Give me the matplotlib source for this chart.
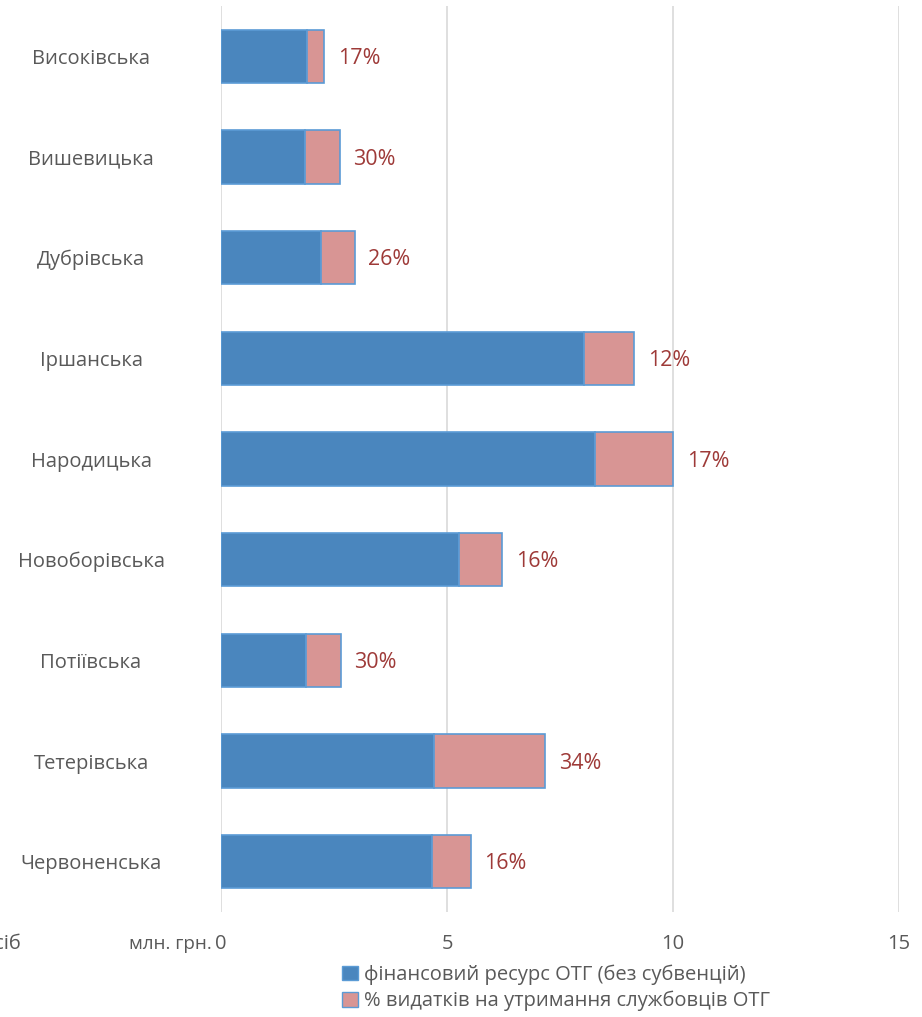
import matplotlib
matplotlib.use("Agg")
import matplotlib.pyplot as plt
from matplotlib.patches import Patch

plt.rcParams['font.family'] = ['Open Sans', 'DejaVu Sans']

categories = ["Високівська", "Вишевицька", "Дубрівська", "Іршанська", "Народицька",
              "Новоборівська", "Потіївська", "Тетерівська", "Червоненська"]
resource = [1.90, 1.86, 2.21, 8.03, 8.27, 5.27, 1.88, 4.71, 4.67]
staff = [0.38, 0.77, 0.75, 1.11, 1.73, 0.95, 0.77, 2.46, 0.86]
pct_labels = ["17%", "30%", "26%", "12%", "17%", "16%", "30%", "34%", "16%"]
xticks = [0, 5, 10, 15]

blue = "#4A86BE"
pink = "#D89594"
edge = "#5B9BD5"
grey = "#595959"
lab = "#9E3A38"
fs = 14.5

fig = plt.figure(figsize=(9.22, 10.17), dpi=100)
ax = fig.add_axes([221/922, 1-912/1017, (899-221)/922, (912-6)/1017])

y = list(range(len(categories)))
h = 0.53
ax.barh(y, resource, height=h, color=blue, edgecolor=edge, linewidth=1.2, zorder=3)
ax.barh(y, staff, left=resource, height=h, color=pink, edgecolor=edge, linewidth=1.2, zorder=3)
for i in y:
    tot = resource[i] + staff[i]
    ax.text(tot + 0.3, i + 0.02, pct_labels[i], va='center', ha='left', color=lab, fontsize=15.5)

ax.set_xlim(0, 15)
ax.set_ylim(len(categories) - 0.5, -0.5)
ax.set_xticks(xticks)
ax.set_xticklabels([str(v) for v in xticks], color=grey, fontsize=fs)
ax.set_yticks(y)
ax.set_yticklabels(categories, color=grey, fontsize=fs, ha='center')
ax.tick_params(axis='both', length=0)
ax.tick_params(axis='y', pad=130*0.72)
ax.tick_params(axis='x', pad=16)
ax.xaxis.grid(True, color="#D9D9D9", linewidth=1.2, zorder=0)
for s in ax.spines.values():
    s.set_visible(False)

fig.text(212/922, 1-944/1017, "млн. грн.", color=grey, fontsize=13.5, va='center', ha='right')
fig.text(22/922, 1-944/1017, "осіб", color=grey, fontsize=fs, va='center', ha='right')

handles = [Patch(facecolor=blue, edgecolor=edge, label="фінансовий ресурс ОТГ (без субвенцій)"),
           Patch(facecolor=pink, edgecolor=edge, label="% видатків на утримання службовців ОТГ")]
fig.legend(handles=handles, loc='center', bbox_to_anchor=(556/922, 1-988/1017), frameon=False,
           fontsize=fs, labelcolor=grey, handlelength=0.75, handleheight=0.75, handletextpad=0.3,
           labelspacing=0.3, borderpad=0)

fig.savefig("out.png", dpi=100)
